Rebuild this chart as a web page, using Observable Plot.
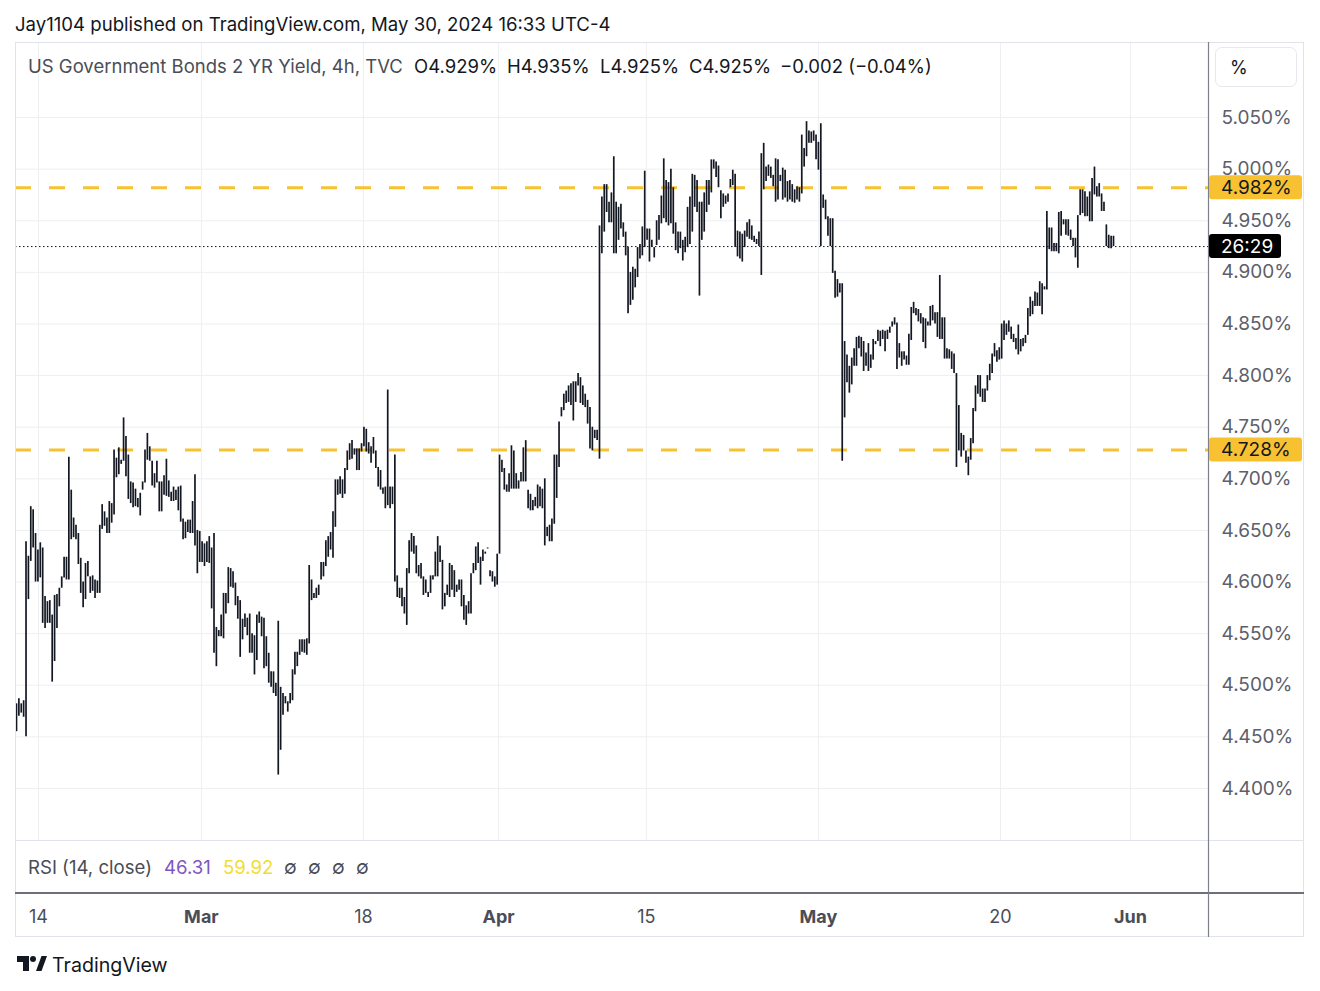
<!DOCTYPE html>
<html><head><meta charset="utf-8">
<script src="https://cdn.jsdelivr.net/npm/d3@7"></script>
<script src="https://cdn.jsdelivr.net/npm/@observablehq/plot@0.6"></script>
<style>
body{margin:0;background:#fff;}
#wrap{position:relative;width:1320px;height:991px;font-family:Inter,"Noto Sans",sans-serif;color:#131722;overflow:hidden;}
.abs{position:absolute;white-space:nowrap;line-height:20px;}
#title{left:15px;top:14px;font-size:18.6px;color:#131722;}
#chart{position:absolute;left:0;top:42px;}
.lg{top:56px;font-size:18.5px;color:#131722;}
.lgl{color:#4a4d57;}
#pct{position:absolute;left:1215px;top:47px;width:82px;height:40px;border:1px solid #e6e8ee;border-radius:7px;box-sizing:border-box;}
#pct span{position:absolute;left:14px;top:9px;font-size:18px;color:#131722;}
.rsi{top:857px;font-size:18.6px;}
#logo{position:absolute;left:17px;top:955px;}
#logotxt{left:52px;top:955px;font-size:19.6px;color:#131722;}
</style></head><body>
<div id="wrap">
  <div id="title" class="abs">Jay1104 published on TradingView.com, May 30, 2024 16:33 UTC-4</div>
  <div id="chart"></div>
  <div class="abs lg lgl" style="left:28px">US Government Bonds 2 YR Yield, 4h, TVC</div>
  <div class="abs lg" style="left:414px">O4.929%</div>
  <div class="abs lg" style="left:507px">H4.935%</div>
  <div class="abs lg" style="left:600px">L4.925%</div>
  <div class="abs lg" style="left:689px">C4.925%</div>
  <div class="abs lg" style="left:780px">−0.002 (−0.04%)</div>
  <div id="pct"><span>%</span></div>
  <div class="abs rsi" style="left:28px;color:#4a4d57">RSI (14, close)</div>
  <div class="abs rsi" style="left:164px;color:#7e57c2">46.31</div>
  <div class="abs rsi" style="left:223px;color:#f2dc2f">59.92</div>
  <div class="abs rsi" style="left:284px;color:#4a4d57">∅</div>
  <div class="abs rsi" style="left:308px;color:#4a4d57">∅</div>
  <div class="abs rsi" style="left:332px;color:#4a4d57">∅</div>
  <div class="abs rsi" style="left:356px;color:#4a4d57">∅</div>
  <svg id="logo" width="30" height="18" viewBox="0 0 30 18">
    <path d="M0 1h12v15H6V7H0z" fill="#131722"/>
    <circle cx="16" cy="4" r="3" fill="#131722"/>
    <path d="M19 16L24.5 1H30L24.5 16z" fill="#131722"/>
  </svg>
  <div id="logotxt" class="abs">TradingView</div>
</div>
<script>
// ---- data: 4h bars, [high, low] in % ----
const seg1 = [[4.482,4.455],[4.487,4.470],[4.482,4.473],[4.485,4.469],[4.639,4.450],[4.625,4.583],[4.673,4.620],[4.670,4.633],[4.647,4.600],[4.631,4.600],[4.638,4.604],[4.633,4.560],[4.586,4.555],[4.581,4.560],[4.582,4.560],[4.568,4.503],[4.587,4.523],[4.588,4.555],[4.594,4.576],[4.605,4.594],[4.624,4.604],[4.624,4.602],[4.721,4.602],[4.689,4.641],[4.662,4.643],[4.655,4.641],[4.647,4.617],[4.623,4.589],[4.600,4.575],[4.618,4.583],[4.620,4.605],[4.605,4.589],[4.606,4.591],[4.602,4.584],[4.601,4.589],[4.655,4.589],[4.675,4.651],[4.668,4.654],[4.662,4.647],[4.678,4.647],[4.676,4.657],[4.728,4.665],[4.720,4.701],[4.730,4.704],[4.718,4.714],[4.759,4.717],[4.741,4.702],[4.723,4.680],[4.697,4.676],[4.696,4.672],[4.690,4.673],[4.681,4.672],[4.686,4.664],[4.697,4.689],[4.728,4.696],[4.744,4.718],[4.731,4.717],[4.717,4.693],[4.705,4.691],[4.717,4.696],[4.697,4.668]];
const seg2 = [[4.697,4.668],[4.703,4.684],[4.719,4.683],[4.698,4.682],[4.687,4.678],[4.692,4.678],[4.689,4.679],[4.692,4.669],[4.693,4.658],[4.661,4.641],[4.658,4.642],[4.660,4.648],[4.660,4.647],[4.678,4.647],[4.704,4.635],[4.650,4.608],[4.649,4.619],[4.639,4.619],[4.637,4.615],[4.639,4.619],[4.644,4.618],[4.633,4.574],[4.647,4.531],[4.556,4.518],[4.553,4.547],[4.568,4.547],[4.589,4.545],[4.589,4.569],[4.614,4.579],[4.613,4.595],[4.610,4.594],[4.599,4.577],[4.586,4.564],[4.582,4.527],[4.564,4.544],[4.569,4.556],[4.565,4.548],[4.569,4.531],[4.550,4.531],[4.548,4.510],[4.568,4.524],[4.571,4.560],[4.566,4.547],[4.565,4.516],[4.547,4.518],[4.531,4.502],[4.513,4.498],[4.513,4.492],[4.502,4.489],[4.562,4.413],[4.498,4.437],[4.492,4.471],[4.489,4.482],[4.484,4.474],[4.492,4.482],[4.515,4.485],[4.532,4.510],[4.532,4.518],[4.544,4.529],[4.544,4.532],[4.544,4.531],[4.545,4.529]];
const seg3 = [[4.616,4.540],[4.602,4.582],[4.589,4.584],[4.594,4.584],[4.597,4.587],[4.619,4.602],[4.619,4.605],[4.640,4.615],[4.644,4.624],[4.648,4.631],[4.668,4.623],[4.699,4.653],[4.699,4.684],[4.702,4.685],[4.699,4.681],[4.710,4.685],[4.727,4.708],[4.734,4.718],[4.737,4.719],[4.729,4.723],[4.729,4.708],[4.729,4.708],[4.734,4.726],[4.750,4.731],[4.748,4.726],[4.735,4.724],[4.731,4.715],[4.740,4.724],[4.727,4.710],[4.711,4.692],[4.708,4.689],[4.691,4.685],[4.692,4.671],[4.786,4.674],[4.692,4.671],[4.692,4.675],[4.723,4.600],[4.606,4.585],[4.594,4.584],[4.594,4.576],[4.585,4.569],[4.613,4.558],[4.640,4.608],[4.647,4.629],[4.644,4.627],[4.635,4.608],[4.616,4.605],[4.618,4.603],[4.605,4.587],[4.602,4.589],[4.590,4.585],[4.606,4.589],[4.606,4.602],[4.629,4.605],[4.644,4.605],[4.635,4.619],[4.621,4.573]];
const seg4 = [[4.589,4.576],[4.597,4.587],[4.618,4.585],[4.616,4.592],[4.611,4.585],[4.597,4.590],[4.602,4.592],[4.602,4.576],[4.587,4.563],[4.577,4.558],[4.581,4.569],[4.608,4.569],[4.618,4.608],[4.634,4.611],[4.638,4.618],[4.624,4.597],[4.631,4.620],[4.629,4.627],[4.633,4.632],[4.611,4.605],[4.610,4.600],[4.605,4.595],[4.627,4.597],[4.723,4.627],[4.718,4.706],[4.710,4.689],[4.694,4.687],[4.705,4.687],[4.732,4.690],[4.727,4.690],[4.705,4.690],[4.698,4.690],[4.706,4.697],[4.730,4.697],[4.737,4.697],[4.689,4.671],[4.685,4.669],[4.679,4.669],[4.682,4.673],[4.694,4.671],[4.692,4.673],[4.690,4.671],[4.700,4.635],[4.653,4.644],[4.655,4.639],[4.661,4.639],[4.723,4.656],[4.723,4.681],[4.755,4.711],[4.769,4.760],[4.782,4.766],[4.785,4.773],[4.790,4.774],[4.792,4.771],[4.794,4.756],[4.794,4.774],[4.802,4.790],[4.798,4.773],[4.790,4.771],[4.782,4.769],[4.776,4.753],[4.769,4.729],[4.750,4.727],[4.747,4.739],[4.747,4.737],[4.945,4.719]];
const seg5 = [[4.973,4.918],[4.985,4.939],[4.985,4.958],[4.968,4.948],[4.977,4.948],[5.012,4.918],[4.968,4.918],[4.963,4.931],[4.966,4.942],[4.948,4.934],[4.939,4.916],[4.924,4.860],[4.900,4.868],[4.905,4.873],[4.903,4.885],[4.924,4.895],[4.927,4.913],[4.944,4.916],[4.998,4.924],[4.942,4.931],[4.942,4.910],[4.931,4.924],[4.924,4.914],[4.950,4.926],[4.955,4.931],[4.974,4.947],[5.010,4.952],[4.989,4.948],[4.987,4.945],[5.000,4.947],[4.982,4.937],[4.948,4.921],[4.939,4.918],[4.939,4.923],[4.931,4.911],[4.934,4.919],[4.963,4.924],[4.973,4.927],[4.995,4.939],[4.994,4.963],[4.989,4.958],[4.968,4.877],[4.968,4.931],[4.977,4.939],[4.989,4.958],[4.989,4.965],[5.009,4.977],[5.009,5.000],[5.007,4.992],[5.003,4.982],[4.979,4.952],[4.976,4.963],[4.974,4.966],[4.976,4.968],[4.990,4.982],[4.999,4.984],[4.995,4.924],[4.940,4.915],[4.939,4.913],[4.937,4.910],[4.940,4.924],[4.948,4.934],[4.951,4.932],[4.945,4.931],[4.935,4.929],[4.932,4.927]];
const seg6 = [[4.939,4.925],[5.015,4.897],[5.025,4.980],[5.002,4.988],[5.004,4.993],[5.002,4.991],[4.994,4.983],[5.010,4.968],[5.009,4.970],[4.994,4.988],[5.001,4.970],[4.999,4.972],[4.988,4.968],[4.989,4.970],[4.985,4.968],[4.980,4.967],[4.983,4.970],[4.982,4.968],[5.033,4.976],[5.020,5.002],[5.046,5.012],[5.037,5.025],[5.036,5.025],[5.037,5.027],[5.033,5.009],[5.026,4.999],[5.044,4.925],[4.975,4.962],[4.970,4.951],[4.954,4.935],[4.952,4.925],[4.952,4.899],[4.901,4.875],[4.893,4.876],[4.889,4.880],[4.889,4.717],[4.833,4.759],[4.820,4.793],[4.809,4.783],[4.817,4.791],[4.826,4.809],[4.837,4.809],[4.838,4.826],[4.837,4.818],[4.833,4.804],[4.822,4.809],[4.831,4.804],[4.820,4.807],[4.835,4.815],[4.833,4.830],[4.844,4.833],[4.843,4.828],[4.844,4.835],[4.843,4.823],[4.844,4.835],[4.847,4.841],[4.852,4.847],[4.856,4.849],[4.851,4.806],[4.831,4.817],[4.823,4.809]];
const seg7 = [[4.823,4.815],[4.819,4.810],[4.840,4.810],[4.866,4.834],[4.871,4.860],[4.865,4.858],[4.864,4.852],[4.860,4.850],[4.856,4.832],[4.855,4.826],[4.852,4.848],[4.867,4.848],[4.868,4.853],[4.861,4.850],[4.861,4.837],[4.897,4.835],[4.856,4.835],[4.856,4.816],[4.826,4.816],[4.825,4.816],[4.823,4.806],[4.821,4.802],[4.802,4.711],[4.771,4.727],[4.744,4.721],[4.742,4.727],[4.727,4.715],[4.721,4.703],[4.739,4.718],[4.768,4.734],[4.790,4.765],[4.800,4.782],[4.800,4.779],[4.787,4.774],[4.787,4.774],[4.800,4.785],[4.811,4.795],[4.821,4.802],[4.831,4.818],[4.824,4.813],[4.827,4.815],[4.850,4.816],[4.853,4.834],[4.850,4.839],[4.853,4.842],[4.847,4.835],[4.840,4.832]];
const seg8 = [[4.836,4.825],[4.849,4.820],[4.835,4.823],[4.836,4.828],[4.839,4.831],[4.865,4.839],[4.876,4.857],[4.872,4.859],[4.881,4.867],[4.880,4.867],[4.891,4.867],[4.889,4.859],[4.886,4.883],[4.959,4.883],[4.943,4.922],[4.943,4.920],[4.928,4.920],[4.928,4.920],[4.958,4.918],[4.959,4.935],[4.951,4.946],[4.951,4.936],[4.951,4.935],[4.941,4.931],[4.933,4.925],[4.933,4.914],[4.955,4.904],[4.980,4.955],[4.980,4.957],[4.978,4.954],[4.973,4.954],[4.978,4.949],[4.991,4.949],[5.002,4.975],[4.983,4.973],[4.986,4.973],[4.976,4.959],[4.968,4.959],[4.946,4.925],[4.936,4.923],[4.935,4.923],[4.935,4.925]];

const priceTicks = [4.40,4.45,4.50,4.55,4.60,4.65,4.70,4.75,4.80,4.85,4.90,4.95,5.00,5.05];
const levelValues = [4.982, 4.728];
const levelLabels = ["4.982%", "4.728%"];
const lastClose = 4.925;
const countdown = "26:29";
const dateTickIndex = [9.25, 77.7, 145.8, 202.6, 264.7, 337.0, 413.5, 468.1];
const dateTickLabel = ["14","Mar","18","Apr","15","May","20","Jun"];
const dateTickIsMonth = [false,true,false,true,false,true,false,true];

// ---- build ----
const bars = [...seg1,...seg2,...seg3,...seg4,...seg5,...seg6,...seg7,...seg8]
  .map(([high, low], i) => ({i, high, low}));
const dateTicks = dateTickIndex.map((x, k) => ({x, label: dateTickLabel[k], month: dateTickIsMonth[k]}));

const axisW = 96, rsiH = 53;
const gridColor = "#eeeff1";

function decor(index, scales, values, dims) {
  const {width, height, marginLeft, marginRight, marginBottom} = dims;
  const right = width - marginRight;
  const bottom = height - marginBottom;
  const outerR = right + axisW;
  const g = d3.create("svg:g").attr("text-anchor", "start");
  g.append("rect").attr("x", marginLeft + 0.5).attr("y", 0.5)
    .attr("width", outerR - marginLeft - 1).attr("height", height - 1)
    .attr("fill", "none").attr("stroke", "#e0e3eb");
  g.append("line").attr("x1", marginLeft).attr("x2", outerR).attr("y1", bottom + 0.5).attr("y2", bottom + 0.5)
    .attr("stroke", "#e0e3eb");
  g.append("line").attr("x1", marginLeft).attr("x2", outerR).attr("y1", bottom + rsiH).attr("y2", bottom + rsiH)
    .attr("stroke", "#6d7079").attr("stroke-width", 2);
  g.append("line").attr("x1", right + 0.5).attr("x2", right + 0.5).attr("y1", 0).attr("y2", height)
    .attr("stroke", "#7d8089").attr("stroke-width", 1.2);
  const boxes = levelValues.map((v, k) => ({v, t: levelLabels[k], bg: "#f8c131", fg: "#131722", w: 93}))
    .concat([{v: lastClose, t: countdown, bg: "#000000", fg: "#ffffff", w: 72}]);
  for (const b of boxes) {
    const y = scales.y(b.v);
    g.append("rect").attr("x", right + 1).attr("y", y - 12).attr("width", b.w).attr("height", 24)
      .attr("rx", 3).attr("fill", b.bg);
    g.append("text").attr("x", right + 13).attr("y", y).attr("dy", "0.36em")
      .attr("text-anchor", "start").attr("font-size", 19).attr("fill", b.fg).text(b.t);
  }
  return g.node();
}

const spacing = 1097 / (bars.length - 1);
const chart = Plot.plot({
  width: 1320,
  height: 895,
  marginLeft: 15,
  marginRight: 112,
  marginTop: 0,
  marginBottom: 97,
  x: {domain: [-1 / spacing, 1192 / spacing], axis: null},
  y: {domain: [4.3496, 5.1227], axis: null},
  style: {fontFamily: "Inter, 'Noto Sans', sans-serif", background: "white", overflow: "visible"},
  marks: [
    Plot.ruleY(priceTicks, {stroke: gridColor, strokeWidth: 1}),
    Plot.ruleX(dateTicks, {x: "x", stroke: gridColor, strokeWidth: 1}),
    Plot.ruleY(levelValues, {stroke: "#f8c131", strokeWidth: 3, strokeDasharray: "16,18"}),
    Plot.ruleY([lastClose], {stroke: "#131722", strokeWidth: 1, strokeDasharray: "1.5,2.5"}),
    Plot.ruleX(bars, {x: "i", y1: "low", y2: "high", stroke: "#131722", strokeWidth: 1.7}),
    Plot.text(priceTicks, {y: d => d, text: d => d.toFixed(3) + "%", frameAnchor: "right", dx: 13,
      textAnchor: "start", fontSize: 19, fill: "#5d606b"}),
    Plot.text(dateTicks.filter(d => !d.month), {x: "x", text: "label", frameAnchor: "bottom", dy: 82,
      fontSize: 18, fill: "#4a4d57"}),
    Plot.text(dateTicks.filter(d => d.month), {x: "x", text: "label", frameAnchor: "bottom", dy: 82,
      fontSize: 18, fontWeight: "bold", fill: "#4a4d57"}),
    decor
  ]
});
document.getElementById("chart").appendChild(chart);
</script>
</body></html>
